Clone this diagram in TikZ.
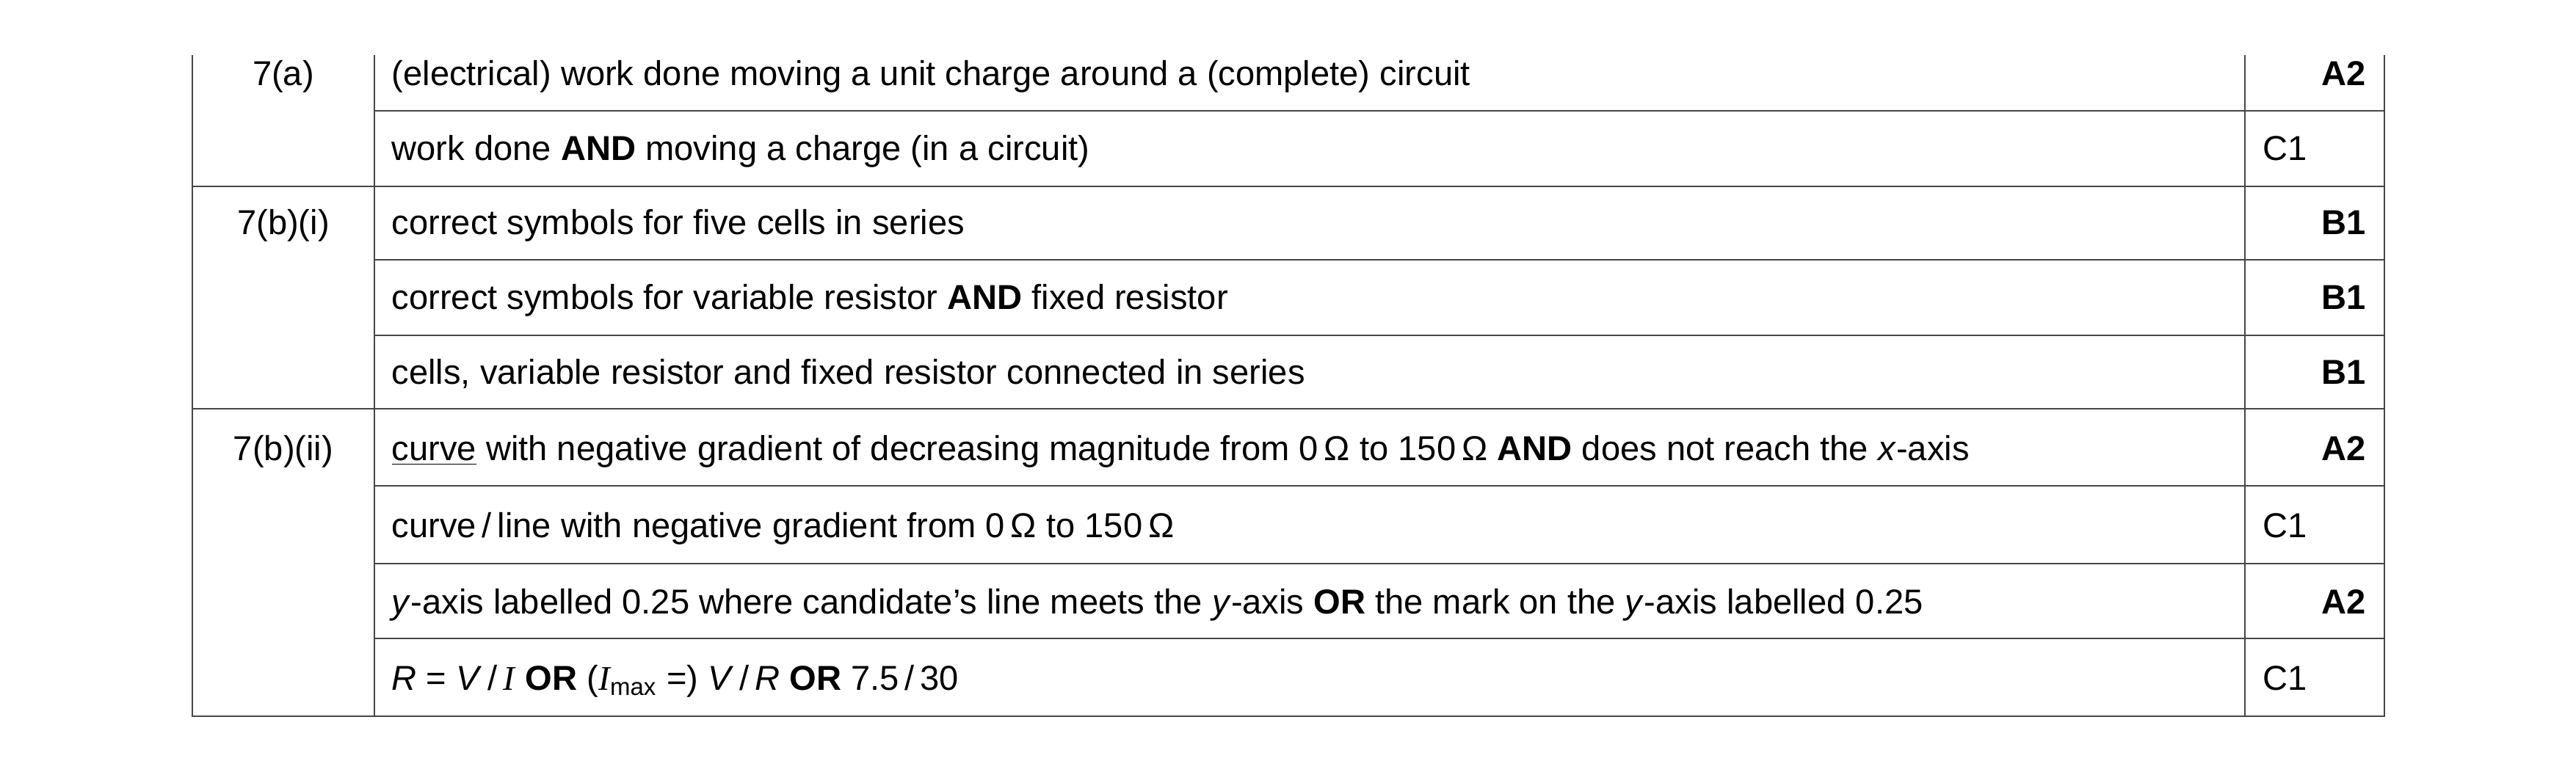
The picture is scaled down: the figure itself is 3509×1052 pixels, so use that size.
\documentclass[tikz,border=0pt]{standalone}
\usepackage{fontspec}
\setmainfont{Liberation Sans}
\newfontfamily\serifit{Liberation Serif}
\definecolor{myrule}{RGB}{70,70,70}
\usetikzlibrary{positioning}

\begin{document}
\begin{tikzpicture}[
  x=0.01cm, y=-0.01cm,
  myrule/.style={draw=myrule, line width=0.75pt},
  mytext/.style={anchor=base west, inner sep=0pt, font=\fontsize{13.4}{16}\selectfont},
  mylabel/.style={anchor=base, inner sep=0pt, font=\fontsize{13.4}{16}\selectfont},
  mybold/.style={anchor=base east, inner sep=0pt, font=\fontsize{13.4}{16}\selectfont\bfseries}
]
\useasboundingbox (0,0) rectangle (3509,1052);

% frame and column rules
\draw[myrule] (262,75) -- (262,976) -- (3248,976) -- (3248,75);
\draw[myrule] (510,75) -- (510,976);
\draw[myrule] (3058,75) -- (3058,976);
% full-width rules between questions
\foreach \y in {254,557}
  \draw[myrule] (262,\y) -- (3248,\y);
% rules inside a question
\foreach \y in {151,354,457,662,768,870}
  \draw[myrule] (510,\y) -- (3248,\y);

% question labels
\node[mylabel] (qa)   at (386,117) {7(a)};
\node[mylabel] (qbi)  at (386,320) {7(b)(i)};
\node[mylabel] (qbii) at (386,627) {7(b)(ii)};

% answers
\node[mytext] (ans1) at (533,117) {(electrical) work done moving a unit charge around a (complete) circuit};
\node[mytext] (ans2) at (533,219) {work done \textbf{AND} moving a charge (in a circuit)};
\node[mytext] (ans3) at (533,320) {correct symbols for five cells in series};
\node[mytext] (ans4) at (533,422) {correct symbols for variable resistor \textbf{AND} fixed resistor};
\node[mytext] (ans5) at (533,524) {cells, variable resistor and fixed resistor connected in series};
\node[mytext] (ans6) at (533,627) {\underline{curve} with negative gradient of decreasing magnitude from 0\,Ω to 150\,Ω \textbf{AND} does not reach the \textit{x}-axis};
\node[mytext] (ans7) at (533,732) {curve\,/\,line with negative gradient from 0\,Ω to 150\,Ω};
\node[mytext] (ans8) at (533,836) {\textit{y}-axis labelled 0.25 where candidate’s line meets the \textit{y}-axis \textbf{OR} the mark on the \textit{y}-axis labelled 0.25};
\node[mytext] (ans9) at (533,940) {\textit{R} = \textit{V}\,/\,{\serifit\itshape I} \textbf{OR} ({\serifit\itshape I}\textsubscript{max} =) \textit{V}\,/\,\textit{R} \textbf{OR} 7.5\,/\,30};

% marks
\node[mybold] (mk1) at (3223,117) {A2};
\node[mytext] (mk2) at (3082,219) {C1};
\node[mybold] (mk3) at (3223,320) {B1};
\node[mybold] (mk4) at (3223,422) {B1};
\node[mybold] (mk5) at (3223,524) {B1};
\node[mybold] (mk6) at (3223,627) {A2};
\node[mytext] (mk7) at (3082,732) {C1};
\node[mybold] (mk8) at (3223,836) {A2};
\node[mytext] (mk9) at (3082,940) {C1};
\end{tikzpicture}
\end{document}
